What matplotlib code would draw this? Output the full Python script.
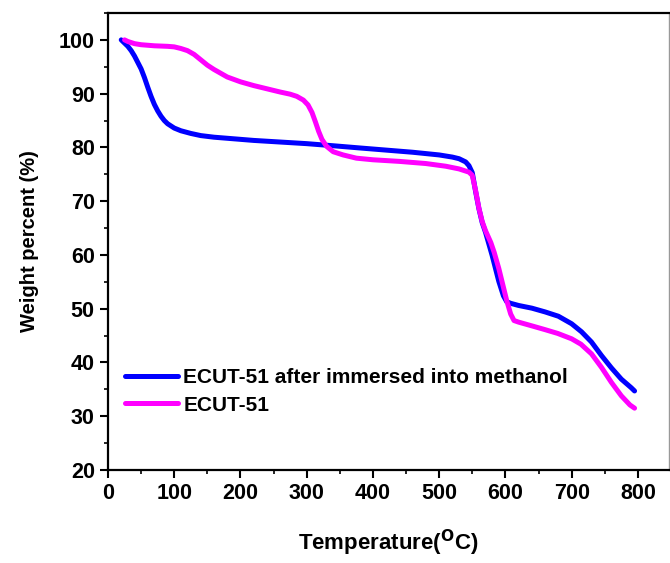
import matplotlib
matplotlib.use("Agg")
import matplotlib.pyplot as plt
from matplotlib.ticker import MultipleLocator

# TGA curves: temperature (deg C) vs remaining weight (%)
methanol_temp = [20, 25, 30, 35, 40, 45, 50, 55, 60, 65, 70, 75, 80, 85, 90, 100, 110,
                 125, 140, 160, 190, 220, 260, 300, 341, 380, 420, 460, 500, 520, 530,
                 540, 545, 550, 555, 560, 565, 570, 580, 590, 597, 602, 608, 620, 640,
                 660, 680, 700, 715, 730, 745, 760, 775, 790, 795]
methanol_weight = [100, 99.4, 98.8, 98.0, 97.0, 95.8, 94.6, 93.0, 91.2, 89.5, 88.0,
                   86.8, 85.8, 85.0, 84.4, 83.6, 83.1, 82.6, 82.2, 81.9, 81.6, 81.3,
                   81.0, 80.7, 80.3, 79.9, 79.5, 79.1, 78.6, 78.2, 77.9, 77.3, 76.6,
                   75.3, 71.8, 68.6, 66.0, 64.2, 59.9, 55.1, 52.4, 51.3, 51.0, 50.6,
                   50.1, 49.4, 48.6, 47.2, 45.7, 43.8, 41.3, 39.0, 36.9, 35.3, 34.7]

ecut_temp = [25, 30, 40, 50, 70, 90, 100, 110, 120, 130, 140, 150, 160, 170, 180, 200,
             220, 240, 260, 275, 285, 295, 302, 308, 313, 318, 323, 330, 340, 355, 375,
             400, 440, 480, 510, 530, 545, 550, 555, 560, 565, 570, 578, 583, 590, 596,
             602, 608, 613, 620, 643, 660, 679, 700, 714, 730, 745, 760, 775, 788, 795]
ecut_weight = [100, 99.7, 99.3, 99.1, 98.9, 98.8, 98.7, 98.4, 98.0, 97.3, 96.3, 95.3,
               94.5, 93.8, 93.1, 92.2, 91.5, 90.9, 90.3, 89.9, 89.5, 88.8, 87.9, 86.5,
               84.8, 83.0, 81.5, 80.2, 79.2, 78.6, 78.0, 77.7, 77.4, 77.0, 76.5, 76.0,
               75.4, 74.8, 72.0, 68.7, 66.2, 64.5, 62.3, 60.5, 57.5, 54.5, 51.5, 49.0,
               47.8, 47.5, 46.7, 46.1, 45.4, 44.4, 43.4, 41.6, 39.1, 36.3, 33.8, 32.1,
               31.5]

series_labels = ["ECUT-51 after immersed into methanol", "ECUT-51"]

plt.rcParams["font.family"] = ["Liberation Sans", "DejaVu Sans"]
plt.rcParams["font.weight"] = "bold"

fig = plt.figure(figsize=(6.7, 5.63), dpi=100)
ax = fig.add_axes([108 / 670, 93 / 563, 561 / 670, 457 / 563])

ax.plot(methanol_temp, methanol_weight, color="#0000ff", lw=3.6,
        solid_capstyle="round", solid_joinstyle="round", label=series_labels[0])
ax.plot(ecut_temp, ecut_weight, color="#ff00ff", lw=3.6,
        solid_capstyle="round", solid_joinstyle="round", label=series_labels[1])

ax.set_xlim(0, 847)
ax.set_ylim(20, 105)
ax.xaxis.set_major_locator(MultipleLocator(100))
ax.xaxis.set_minor_locator(MultipleLocator(50))
ax.yaxis.set_major_locator(MultipleLocator(10))
ax.yaxis.set_minor_locator(MultipleLocator(5))

ax.tick_params(which="major", direction="out", length=6, width=1.5,
               labelsize=15.5, pad=3.5)
ax.tick_params(which="minor", direction="out", length=3, width=1.2)
for side in ["left", "bottom", "top"]:
    ax.spines[side].set_linewidth(1.6)
ax.spines["right"].set_linewidth(1.0)
ax.spines["right"].set_color("#999999")

ax.set_xlabel("Temperature($\\mathbf{^{O}}$C)", fontsize=16, fontweight="bold",
              labelpad=17)
ax.set_ylabel("Weight percent (%)", fontsize=14.5, fontweight="bold", labelpad=14)

ax.legend(loc="center left", bbox_to_anchor=(17 / 561, 0.172), frameon=False,
          fontsize=15, handlelength=2.55, handletextpad=0.25,
          labelspacing=0.42, borderpad=0, borderaxespad=0)

fig.savefig("out.png", dpi=100)
